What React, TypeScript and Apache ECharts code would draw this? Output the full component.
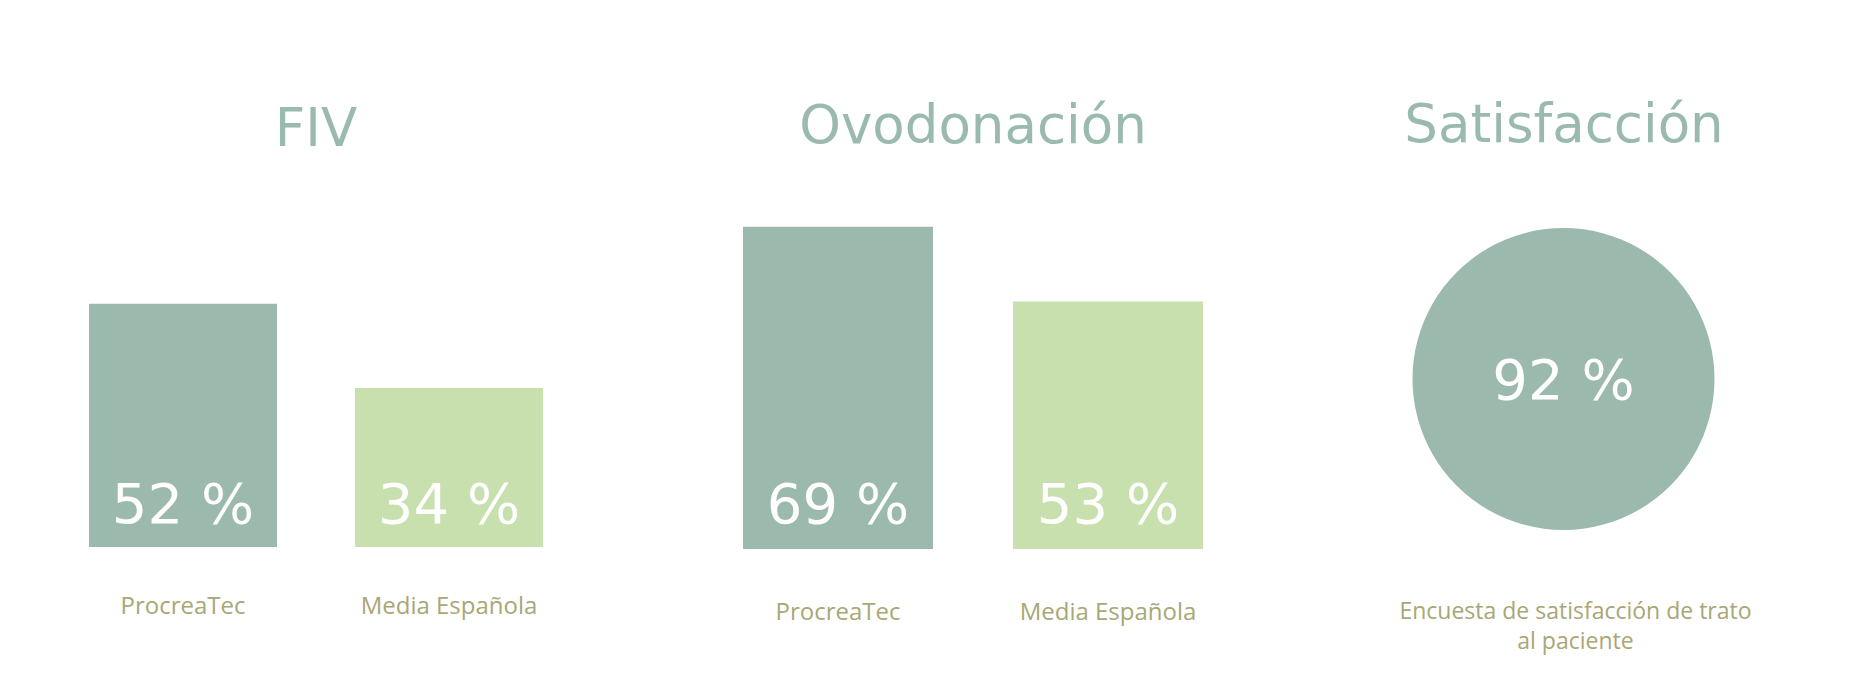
import React, { useEffect, useRef } from "react";
import * as echarts from "echarts";

const panelTitles = ["FIV", "Ovodonación", "Satisfacción"];
const barCategories = ["ProcreaTec", "Media Española"];
const fivValues = [52, 34];
const ovoValues = [69, 53];
const satisfactionValue = 92;
const satisfactionCaption = ["Encuesta de satisfacción de trato", "al paciente"];
const barColors = ["#9bb9ac", "#c8dfae"];

const TITLE_COLOR = "#9bbaae";
const CAT_COLOR = "#a9a775";
const NUM_FONT = "DejaVu Sans";
const CAT_FONT = "Open Sans";

export default function App() {
  const ref = useRef<HTMLDivElement>(null);
  useEffect(() => {
    if (!ref.current) return;
    const chart = echarts.init(ref.current, undefined, { renderer: "svg" });

    const makeAxis = (gridIndex: number, margin: number) => ({
      type: "category",
      gridIndex,
      data: barCategories,
      axisLine: { show: false },
      axisTick: { show: false },
      splitLine: { show: false },
      axisLabel: {
        fontFamily: CAT_FONT,
        fontSize: 24,
        lineHeight: 24,
        color: CAT_COLOR,
        margin,
      },
    });
    const makeY = (gridIndex: number) => ({
      type: "value",
      gridIndex,
      min: 0,
      max: 100,
      show: false,
    });
    const makeBar = (idx: number, values: number[], barWidth: number, distance: number) => ({
      type: "bar",
      xAxisIndex: idx,
      yAxisIndex: idx,
      barWidth,
      silent: true,
      data: values.map((v, i) => ({ value: v, itemStyle: { color: barColors[i] } })),
      label: {
        show: true,
        position: "insideBottom",
        distance,
        formatter: "{c} %",
        color: "#ffffff",
        fontFamily: NUM_FONT,
        fontSize: 56,
        lineHeight: 60,
      },
    });

    const titleX = [316, 973, 1564];
    const titleY = [127, 124, 123];

    chart.setOption({
      animation: false,
      backgroundColor: "#ffffff",
      grid: [
        { left: 50, width: 532, top: 79, height: 468 },
        { left: 703, width: 540, top: 82, height: 467 },
      ],
      xAxis: [makeAxis(0, 45), makeAxis(1, 49)],
      yAxis: [makeY(0), makeY(1)],
      series: [
        makeBar(0, fivValues, 188, 14),
        makeBar(1, ovoValues, 190, 16),
        {
          type: "pie",
          center: [1563.5, 379],
          radius: [0, 151],
          silent: true,
          emphasis: { disabled: true },
          itemStyle: { color: barColors[0], borderWidth: 0 },
          labelLine: { show: false },
          label: {
            show: true,
            position: "center",
            formatter: "{c} %",
            color: "#ffffff",
            fontFamily: NUM_FONT,
            fontSize: 56,
            lineHeight: 60,
            padding: [8, 0, 0, 0],
          },
          data: [{ value: satisfactionValue, name: panelTitles[2] }],
        },
      ],
      graphic: [
        ...panelTitles.map((t, i) => ({
          type: "text",
          x: titleX[i],
          y: titleY[i],
          silent: true,
          style: {
            text: t,
            fill: TITLE_COLOR,
            fontFamily: NUM_FONT,
            fontSize: 53,
            textAlign: "center",
            textVerticalAlign: "middle",
          },
        })),
        ...satisfactionCaption.map((line, i) => ({
          type: "text",
          x: 1575.5,
          y: 610 + i * 30,
          silent: true,
          style: {
            text: line,
            fill: CAT_COLOR,
            fontFamily: CAT_FONT,
            fontSize: 23,
            lineHeight: 26,
            textAlign: "center",
            textVerticalAlign: "middle",
          },
        })),
      ],
    });
    return () => chart.dispose();
  }, []);
  return (
    <div
      ref={ref}
      style={{ position: "fixed", left: 0, top: 0, width: 1856, height: 700 }}
    />
  );
}
